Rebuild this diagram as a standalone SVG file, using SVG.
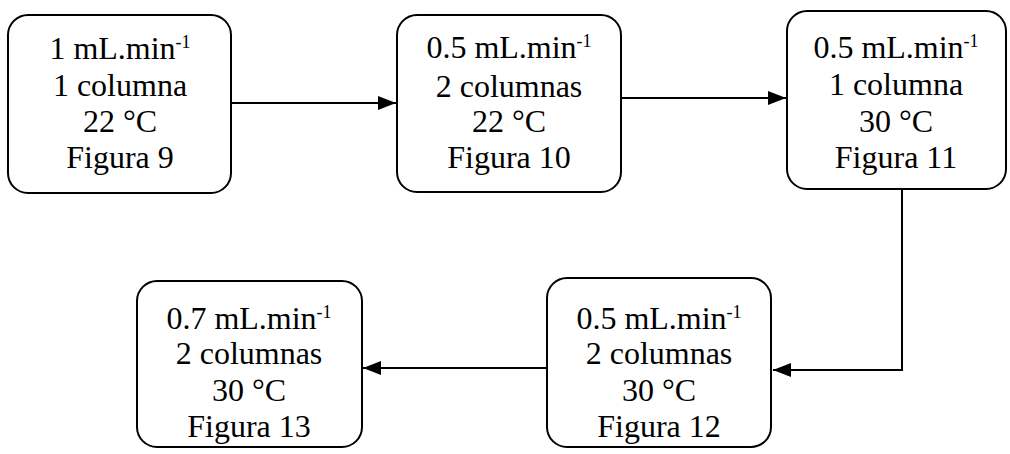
<svg xmlns="http://www.w3.org/2000/svg" width="1010" height="454" viewBox="0 0 1010 454">
  <style>
    .box { fill: #ffffff; stroke: #000000; stroke-width: 2; }
    .lbl { font-family: 'Liberation Serif', serif; font-size: 32px; fill: #000000; text-anchor: middle; }
    .sup { font-size: 18px; }
    .link { fill: none; stroke: #000000; stroke-width: 2; }
  </style>
  <defs>
    <marker id="arrow" markerUnits="userSpaceOnUse" markerWidth="20" markerHeight="16" refX="18" refY="8" orient="auto">
      <path d="M0,1 L18,8 L0,15 Z" fill="#000000"/>
    </marker>
  </defs>

  <rect width="1010" height="454" fill="#ffffff"/>

  <!-- connectors -->
  <g id="connectors">
    <line class="link" x1="231" y1="103" x2="396" y2="103" marker-end="url(#arrow)"/>
    <line class="link" x1="621" y1="98" x2="786" y2="98" marker-end="url(#arrow)"/>
    <polyline class="link" points="902,189 902,370 773,370" marker-end="url(#arrow)"/>
    <line class="link" x1="547" y1="368" x2="363" y2="368" marker-end="url(#arrow)"/>
  </g>

  <!-- Figura 9 -->
  <g id="n-fig9">
    <rect class="box" x="8" y="15" width="223" height="178" rx="20"/>
    <text class="lbl" x="120" y="59">1 mL.min<tspan class="sup" dy="-11">-1</tspan></text>
    <text class="lbl" x="120" y="96">1 columna</text>
    <text class="lbl" x="120" y="132">22 °C</text>
    <text class="lbl" x="120" y="168">Figura 9</text>
  </g>

  <!-- Figura 10 -->
  <g id="n-fig10">
    <rect class="box" x="397" y="15" width="224" height="177" rx="20"/>
    <text class="lbl" x="509" y="58">0.5 mL.min<tspan class="sup" dy="-11">-1</tspan></text>
    <text class="lbl" x="509" y="97">2 columnas</text>
    <text class="lbl" x="509" y="132">22 °C</text>
    <text class="lbl" x="509" y="168">Figura 10</text>
  </g>

  <!-- Figura 11 -->
  <g id="n-fig11">
    <rect class="box" x="787" y="11" width="219" height="178" rx="20"/>
    <text class="lbl" x="896" y="58">0.5 mL.min<tspan class="sup" dy="-11">-1</tspan></text>
    <text class="lbl" x="896" y="95">1 columna</text>
    <text class="lbl" x="896" y="132">30 °C</text>
    <text class="lbl" x="896" y="168">Figura 11</text>
  </g>

  <!-- Figura 12 -->
  <g id="n-fig12">
    <rect class="box" x="547" y="278" width="224" height="169" rx="20"/>
    <text class="lbl" x="659" y="329">0.5 mL.min<tspan class="sup" dy="-11">-1</tspan></text>
    <text class="lbl" x="659" y="364">2 columnas</text>
    <text class="lbl" x="659" y="401">30 °C</text>
    <text class="lbl" x="659" y="437">Figura 12</text>
  </g>

  <!-- Figura 13 -->
  <g id="n-fig13">
    <rect class="box" x="137" y="281" width="225" height="166" rx="20"/>
    <text class="lbl" x="249" y="329">0.7 mL.min<tspan class="sup" dy="-11">-1</tspan></text>
    <text class="lbl" x="249" y="364">2 columnas</text>
    <text class="lbl" x="249" y="401">30 °C</text>
    <text class="lbl" x="249" y="437">Figura 13</text>
  </g>
</svg>
